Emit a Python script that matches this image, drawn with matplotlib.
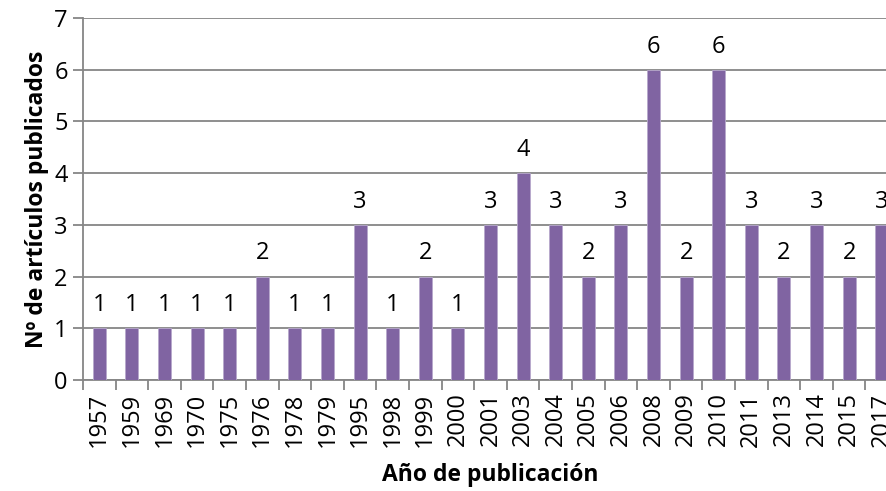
import matplotlib.pyplot as plt
import numpy as np

plt.rcParams.update({
    "font.family": ["Open Sans", "DejaVu Sans"],
    "font.size": 17,
})

# data
years = ["1957", "1959", "1969", "1970", "1975", "1976", "1978", "1979", "1995",
         "1998", "1999", "2000", "2001", "2003", "2004", "2005", "2006", "2008",
         "2009", "2010", "2011", "2013", "2014", "2015", "2017"]
counts = [1, 1, 1, 1, 1, 2, 1, 1, 3, 1, 2, 1, 3, 4, 3, 2, 3, 6, 2, 6, 3, 2, 3, 2, 3]

grey = "#868686"
purple = "#8064A2"

fig = plt.figure(figsize=(8.87, 4.91), dpi=100)
# plot area runs slightly past the right edge, as in the original
ax = fig.add_axes([83 / 887, 1 - 380 / 491, 815 / 887, 362 / 491])

x = np.arange(len(years))
ax.bar(x, counts, width=0.4, color=purple, edgecolor="#B7A8CC",
       linewidth=0.6, zorder=3)
for xi, c in zip(x, counts):
    ax.annotate(str(c), (xi, c), xytext=(0, 8), textcoords="offset points",
                ha="center", va="bottom", fontsize=17)

ax.set_xlim(-0.5, len(years) - 0.5)
ax.set_ylim(0, 7)
ax.set_yticks(range(0, 8))
ax.yaxis.grid(True, color=grey, linewidth=1.3, zorder=0)
ax.set_axisbelow(True)

ax.set_xticks(x)
ax.set_xticklabels(years, rotation=90)
ax.set_xticks(np.arange(-0.5, len(years), 1), minor=True)
ax.tick_params(axis="x", which="major", length=0, pad=9)
ax.tick_params(axis="x", which="minor", length=7, width=1.3, color=grey, direction="out")
ax.tick_params(axis="y", length=7, width=1.3, color=grey, direction="out", pad=4)

for side in ["top", "right"]:
    ax.spines[side].set_visible(False)
for side in ["left", "bottom"]:
    ax.spines[side].set_color(grey)
    ax.spines[side].set_linewidth(1.3)

ax.set_xlabel("Año de publicación", fontweight="bold", fontsize=16.5, labelpad=12)
ax.set_ylabel("Nº de artículos publicados", fontweight="bold", fontsize=16.5, labelpad=4)

fig.savefig("out.png", dpi=100)
